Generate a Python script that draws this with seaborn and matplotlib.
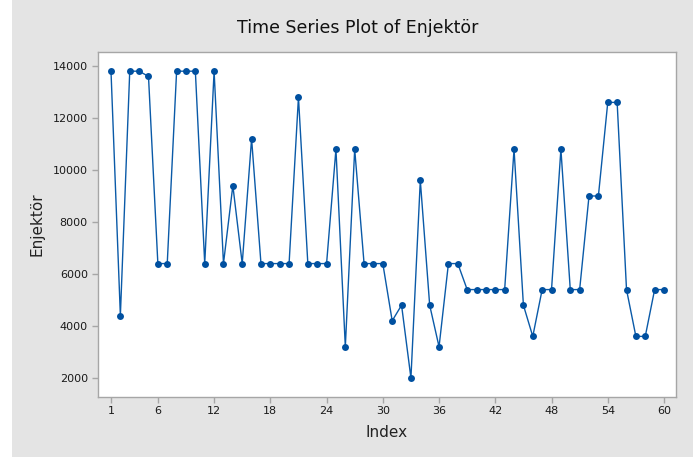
import numpy as np
import pandas as pd
import matplotlib
matplotlib.use("Agg")
import matplotlib.pyplot as plt
import seaborn as sns
from matplotlib.patches import Rectangle

# values
index = list(range(1, 61))
enjektor = [
    13800, 4400, 13800, 13800, 13600, 6400, 6400, 13800, 13800, 13800,
    6400, 13800, 6400, 9400, 6400, 11200, 6400, 6400, 6400, 6400,
    12800, 6400, 6400, 6400, 10800, 3200, 10800, 6400, 6400, 6400,
    4200, 4800, 2000, 9600, 4800, 3200, 6400, 6400, 5400, 5400,
    5400, 5400, 5400, 10800, 4800, 3600, 5400, 5400, 10800, 5400,
    5400, 9000, 9000, 12600, 12600, 5400, 3600, 3600, 5400, 5400,
]
xticks = [1, 6, 12, 18, 24, 30, 36, 42, 48, 54, 60]
yticks = [2000, 4000, 6000, 8000, 10000, 12000, 14000]

df = pd.DataFrame({"Index": index, "Enjektor": enjektor})

sns.set_style("white")
plt.rcParams['font.family'] = ['DejaVu Sans']

bg = "#e4e4e4"
edge = "#a6a6a6"
blue = "#0a5aa8"

fig = plt.figure(figsize=(6.93, 4.57), dpi=100, facecolor=bg)
# thin white strip on the left, as in the screenshot
fig.patches.append(Rectangle((0, 0), 12 / 693, 1, transform=fig.transFigure,
                             facecolor="white", edgecolor="none", zorder=-1))

ax = fig.add_axes([97.5 / 693, 1 - 396.5 / 457, (676 - 97.5) / 693, (396.5 - 52) / 457])
sns.lineplot(data=df, x="Index", y="Enjektor", ax=ax, color=blue, linewidth=1.0,
             marker="o", markersize=5, markeredgewidth=0, markerfacecolor="#0050a0")

ax.set_xlim(-0.44, 61.28)
ax.set_ylim(1288, 14538)
ax.set_xticks(xticks)
ax.set_yticks(yticks)
ax.tick_params(axis="both", direction="out", length=4, width=1, color=edge,
               labelsize=8, labelcolor="#1a1a1a", pad=3, left=True, bottom=True)
for sp in ax.spines.values():
    sp.set_color(edge)
    sp.set_linewidth(1)

ax.set_xlabel("Index", fontsize=11, color="#222222", labelpad=6)
ax.set_ylabel("Enjektör", fontsize=11, color="#222222", labelpad=6)

fig.text(358 / 693, 1 - 28 / 457, "Time Series Plot of Enjektör", ha="center", va="center",
         fontsize=12.5, color="#111111")

fig.savefig("out.png", dpi=100, facecolor=bg)
